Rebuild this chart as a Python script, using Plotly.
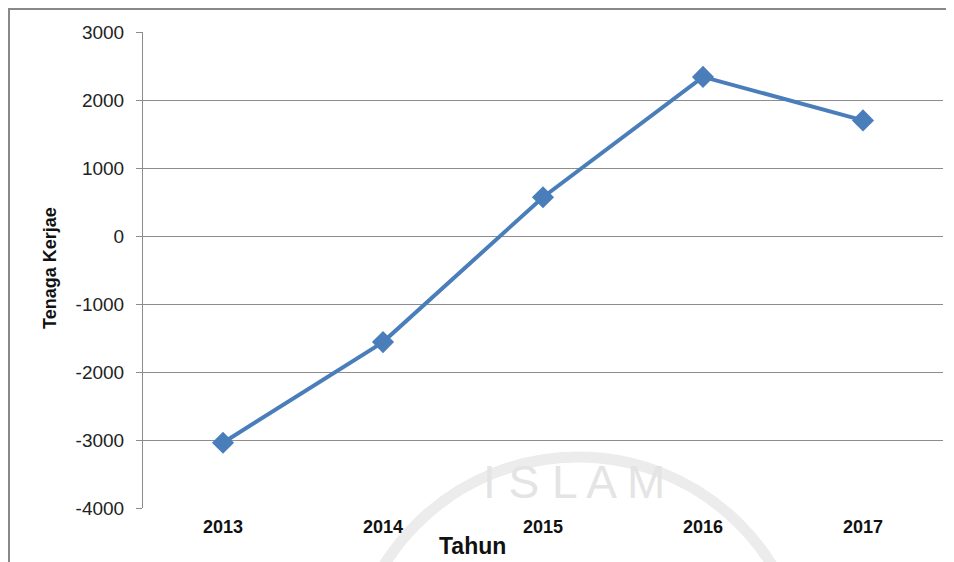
import plotly.graph_objects as go

years = ["2013", "2014", "2015", "2016", "2017"]
tenaga_kerja = [-3040, -1560, 570, 2340, 1700]
y_ticks = [-4000, -3000, -2000, -1000, 0, 1000, 2000, 3000]
y_tick_text = ["-4000", "-3000", "-2000", "-1000", "0", "1000", "2000", "3000"]

# page body has an 8px margin; figure origin sits at (8, 8)
OFF = 8
W, H = 954 - OFF, 562 - OFF
L, T, R, B = 143 - OFF, 32 - OFF, 11, 54
PW, PH = W - L - R, H - T - B


def px(x):
    return (x - OFF - L) / PW


def py(y):
    return (H - B - (y - OFF)) / PH


fig = go.Figure()
fig.add_trace(go.Scatter(
    x=years, y=tenaga_kerja, mode="lines+markers",
    line=dict(color="#4a7ebb", width=4),
    marker=dict(symbol="diamond", size=17, color="#4a7ebb"),
    showlegend=False,
))

fig.update_layout(
    width=W, height=H,
    margin=dict(l=L, r=R, t=T, b=B),
    paper_bgcolor="white", plot_bgcolor="white",
    font=dict(family="Liberation Sans, Arial, sans-serif", color="#222"),
    xaxis=dict(
        type="category", range=[-0.5, 4.5],
        showgrid=False, showline=False, zeroline=False,
        ticks="", tickfont=dict(size=18, color="#111"),
        tickprefix="<b>", ticksuffix="</b>",
        ticklabelstandoff=6,
    ),
    yaxis=dict(
        range=[-4000, 3000], tickvals=y_ticks, ticktext=y_tick_text,
        showgrid=True, gridcolor="#8c8c8c", gridwidth=1,
        zeroline=False, showline=True, linecolor="#8c8c8c", linewidth=1,
        ticks="outside", ticklen=6, tickcolor="#8c8c8c",
        tickfont=dict(size=19, color="#222"),
        ticklabelstandoff=8,
    ),
    annotations=[
        dict(text="I S L A M", xref="paper", yref="paper", x=px(574), y=py(482),
             xanchor="center", yanchor="middle", showarrow=False,
             font=dict(size=46, color="#e4e4e4")),
        dict(text="<b>Tahun</b>", xref="paper", yref="paper", x=px(472), y=py(546),
             xanchor="center", yanchor="middle", showarrow=False,
             font=dict(size=23, color="#111")),
        dict(text="<b>Tenaga Kerjae</b>", xref="paper", yref="paper", x=px(50), y=py(268),
             xanchor="center", yanchor="middle", showarrow=False, textangle=-90,
             font=dict(size=18, color="#111")),
    ],
    shapes=[
        dict(type="rect", xref="paper", yref="paper",
             x0=px(9), x1=px(970), y0=py(580), y1=py(9),
             line=dict(color="#888888", width=2), layer="below"),
        dict(type="circle", xref="paper", yref="paper",
             x0=px(578 - 228), x1=px(578 + 228),
             y0=py(685 + 228), y1=py(685 - 228),
             line=dict(color="#ececec", width=11), layer="below"),
    ],
)

fig.write_html("out.html")
